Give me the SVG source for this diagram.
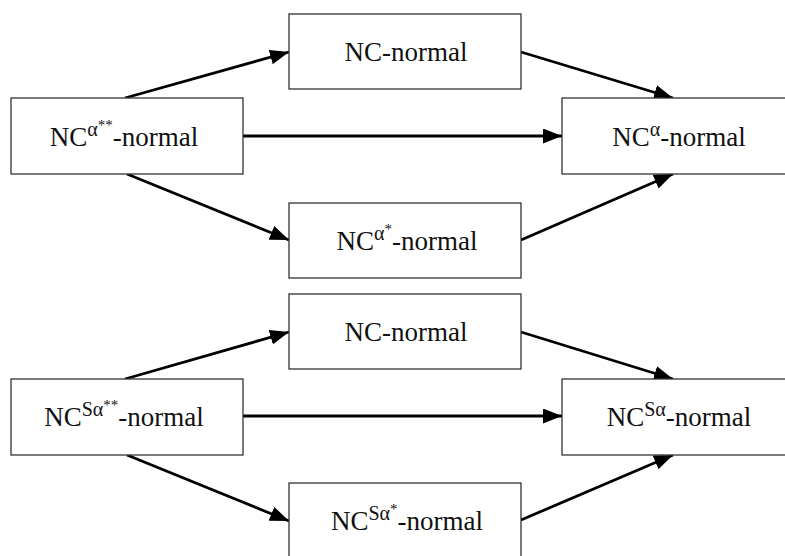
<svg xmlns="http://www.w3.org/2000/svg" width="785" height="556" viewBox="0 0 785 556">
<style>
.box{fill:#fff;stroke:#333;stroke-width:1.3}
.lbl{font-family:"Liberation Serif",serif;font-size:27px;fill:#111;text-anchor:middle}
.sup1{font-size:20px}
.sup2{font-size:15px}
.edge{stroke:#000;stroke-width:2.8;fill:none;marker-end:url(#ah)}
</style>
<defs>
<marker id="ah" markerUnits="userSpaceOnUse" markerWidth="20" markerHeight="16" refX="19" refY="7.5" orient="auto">
<path d="M0,0 L19,7.5 L0,15 z" fill="#000"/>
</marker>
</defs>
<rect width="785" height="556" fill="#fff"/>
<g id="connectors">
<line class="edge" x1="125" y1="98" x2="289" y2="52"/>
<line class="edge" x1="243" y1="136" x2="562" y2="136"/>
<line class="edge" x1="127" y1="174" x2="289" y2="240"/>
<line class="edge" x1="521" y1="52" x2="673" y2="98"/>
<line class="edge" x1="521" y1="240" x2="673" y2="174"/>
<line class="edge" x1="125" y1="379" x2="289" y2="332"/>
<line class="edge" x1="243" y1="416" x2="562" y2="416"/>
<line class="edge" x1="127" y1="455" x2="289" y2="521"/>
<line class="edge" x1="521" y1="332" x2="673" y2="379"/>
<line class="edge" x1="521" y1="520" x2="673" y2="455"/>
</g>
<g id="n1">
<rect class="box" x="11" y="98" width="232" height="76"/>
<text class="lbl" x="124" y="146">NC<tspan class="sup1" dy="-10">α</tspan><tspan class="sup2" dy="-6">**</tspan><tspan dy="16">-normal</tspan></text>
</g>
<g id="n2">
<rect class="box" x="289" y="14" width="232" height="75"/>
<text class="lbl" x="406" y="61">NC-normal</text>
</g>
<g id="n3">
<rect class="box" x="289" y="203" width="232" height="75"/>
<text class="lbl" x="407" y="250">NC<tspan class="sup1" dy="-10">α</tspan><tspan class="sup2" dy="-6">*</tspan><tspan dy="16">-normal</tspan></text>
</g>
<g id="n4">
<rect class="box" x="562" y="98" width="232" height="76"/>
<text class="lbl" x="679" y="146">NC<tspan class="sup1" dy="-10">α</tspan><tspan dy="10">-normal</tspan></text>
</g>
<g id="n5">
<rect class="box" x="11" y="379" width="232" height="76"/>
<text class="lbl" x="124" y="426">NC<tspan class="sup1" dy="-10">Sα</tspan><tspan class="sup2" dy="-6">**</tspan><tspan dy="16">-normal</tspan></text>
</g>
<g id="n6">
<rect class="box" x="289" y="294" width="232" height="75"/>
<text class="lbl" x="406" y="341">NC-normal</text>
</g>
<g id="n7">
<rect class="box" x="289" y="483" width="232" height="76"/>
<text class="lbl" x="407" y="530">NC<tspan class="sup1" dy="-10">Sα</tspan><tspan class="sup2" dy="-6">*</tspan><tspan dy="16">-normal</tspan></text>
</g>
<g id="n8">
<rect class="box" x="562" y="379" width="232" height="76"/>
<text class="lbl" x="679" y="426">NC<tspan class="sup1" dy="-10">Sα</tspan><tspan dy="10">-normal</tspan></text>
</g>
</svg>
